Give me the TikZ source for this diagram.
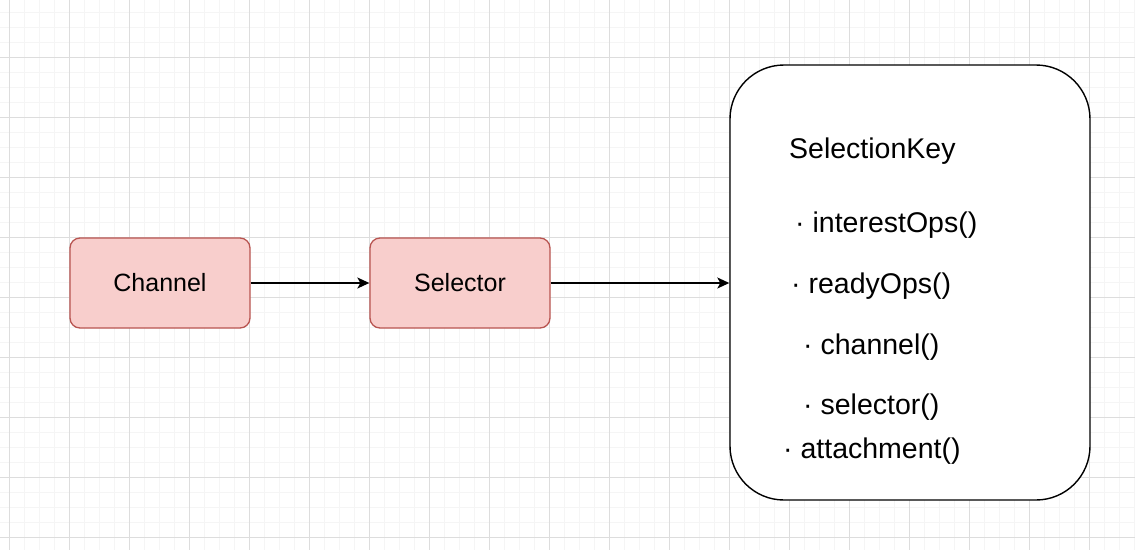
\documentclass[tikz,border=0pt]{standalone}
\usepackage{fontspec}
\setmainfont{Liberation Sans}
\usepackage{xcolor}
\usepackage{tikz}
\usetikzlibrary{arrows.meta, positioning}
\definecolor{BoxFill}{HTML}{F8CECC}
\definecolor{BoxLine}{HTML}{B85450}
\definecolor{GridMajor}{HTML}{DDDDDD}
\definecolor{GridMinor}{HTML}{F5F5F5}

\begin{document}
\begin{tikzpicture}[x=1pt, y=-1pt,
    box/.style={draw=BoxLine, fill=BoxFill, rounded corners=10pt, minimum width=180pt,
                minimum height=90pt, line width=1.3pt, text centered,
                font=\fontsize{25}{30}\selectfont},
    keybox/.style={draw=black, fill=white, rounded corners=54pt, minimum width=360pt,
                minimum height=435pt, line width=1.4pt},
    item/.style={anchor=west, inner sep=0pt, font=\fontsize{28.5}{33}\selectfont},
    arrow/.style={-{Stealth[length=12pt, width=11pt, inset=3pt]}, line width=1.4pt}
  ]
    \useasboundingbox (0,0) rectangle (1135,550);
    \fill[white] (0,0) rectangle (1135,550);
    % grid
    \foreach \gx in {0,...,75} {
      \draw[GridMinor, line width=0.8pt] ({9.3+15*\gx},0) -- ({9.3+15*\gx},550);
    }
    \foreach \gy in {-1,...,36} {
      \draw[GridMinor, line width=0.8pt] (0,{12.3+15*\gy}) -- (1135,{12.3+15*\gy});
    }
    \foreach \gx in {0,...,18} {
      \draw[GridMajor, line width=0.8pt] ({9.3+60*\gx},0) -- ({9.3+60*\gx},550);
    }
    \foreach \gy in {0,...,9} {
      \draw[GridMajor, line width=0.8pt] (0,{-2.7+60*\gy}) -- (1135,{-2.7+60*\gy});
    }

    \node[box] (channel) at (160,283) {Channel};
    \node[box] (selector) at (460,283) {Selector};
    \node[keybox] (key) at (910,282.5) {};

    \node[item] (title) at (789,151) {SelectionKey};
    \node[item] (interest) at (795,225) {· interestOps()};
    \node[item] (ready) at (791,286) {· readyOps()};
    \node[item] (chan) at (803,347) {· channel()};
    \node[item] (sel) at (803,407) {· selector()};
    \node[item] (attach) at (783,451) {· attachment()};

    \draw[arrow] (channel) -- (selector);
    \draw[arrow] (selector) -- (key.west |- selector);
  \end{tikzpicture}
\end{document}
